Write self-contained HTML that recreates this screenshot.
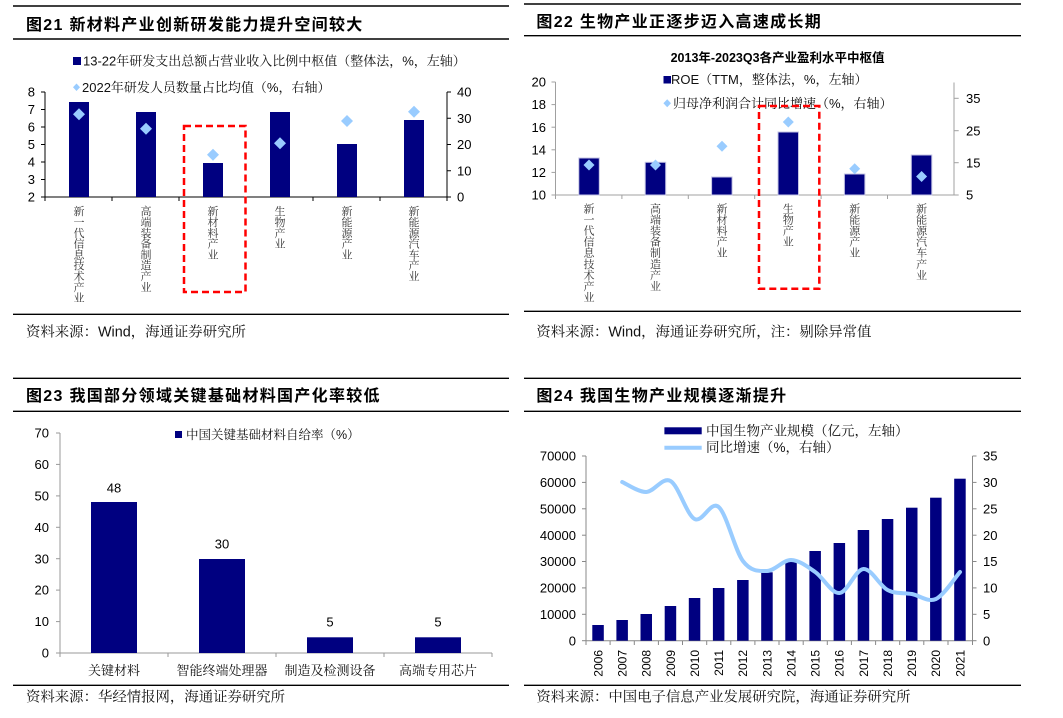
<!DOCTYPE html>
<html><head><meta charset="utf-8"><style>
html,body{margin:0;padding:0;background:#fff;}
svg{display:block;}
.t{font-family:"Liberation Sans","Noto Sans CJK SC",sans-serif;font-weight:700;font-size:16px;letter-spacing:1.3px;fill:#000;}
.s{font-family:"Liberation Sans","Noto Serif CJK SC",serif;font-size:14.4px;fill:#111;}
.lg{font-family:"Liberation Sans","Noto Serif CJK SC",serif;fill:#111;}
.ax{font-family:"Liberation Sans",sans-serif;font-size:13px;fill:#000;}
.vl{font-family:"Liberation Sans","Noto Serif CJK SC",serif;font-size:11px;fill:#333;}
</style></head><body>
<svg width="1063" height="718" viewBox="0 0 1063 718" xmlns="http://www.w3.org/2000/svg">
<rect width="1063" height="718" fill="#fff"/>

<!-- ============ Panel 1 ============ -->
<line x1="13" y1="6" x2="509" y2="6" stroke="#000" stroke-width="1.4"/>
<text class="t" x="26" y="30">图21 新材料产业创新研发能力提升空间较大</text>
<line x1="13" y1="39" x2="509" y2="39" stroke="#000" stroke-width="1.4"/>
<rect x="73" y="57" width="8" height="8" fill="#000080"/>
<text class="lg" x="83" y="65.5" font-size="13">13-22年研发支出总额占营业收入比例中枢值（整体法，%，左轴）</text>
<polygon points="76.5,83.5 80,87.3 76.5,91 73,87.3" fill="#99CCFF"/>
<text class="lg" x="82" y="92" font-size="13">2022年研发人员数量占比均值（%，右轴）</text>
<g stroke="#000" stroke-width="1">
<line x1="45" y1="92" x2="45" y2="197"/>
<line x1="447" y1="92" x2="447" y2="197"/>
<line x1="45" y1="197" x2="447" y2="197"/>
<line x1="41" y1="92" x2="45" y2="92"/><line x1="41" y1="109.5" x2="45" y2="109.5"/><line x1="41" y1="127" x2="45" y2="127"/><line x1="41" y1="144.5" x2="45" y2="144.5"/><line x1="41" y1="162" x2="45" y2="162"/><line x1="41" y1="179.5" x2="45" y2="179.5"/><line x1="41" y1="197" x2="45" y2="197"/>
<line x1="447" y1="92" x2="451" y2="92"/><line x1="447" y1="118.25" x2="451" y2="118.25"/><line x1="447" y1="144.5" x2="451" y2="144.5"/><line x1="447" y1="170.75" x2="451" y2="170.75"/><line x1="447" y1="197" x2="451" y2="197"/>
<line x1="45" y1="197" x2="45" y2="201"/><line x1="112" y1="197" x2="112" y2="201"/><line x1="179" y1="197" x2="179" y2="201"/><line x1="246" y1="197" x2="246" y2="201"/><line x1="313" y1="197" x2="313" y2="201"/><line x1="380" y1="197" x2="380" y2="201"/><line x1="447" y1="197" x2="447" y2="201"/>
</g>
<g class="ax" text-anchor="end">
<text x="35" y="96.6">8</text><text x="35" y="114.1">7</text><text x="35" y="131.6">6</text><text x="35" y="149.1">5</text><text x="35" y="166.6">4</text><text x="35" y="184.1">3</text><text x="35" y="201.6">2</text>
</g>
<g class="ax">
<text x="457" y="96.6">40</text><text x="457" y="122.9">30</text><text x="457" y="149.1">20</text><text x="457" y="175.4">10</text><text x="457" y="201.6">0</text>
</g>
<g fill="#000080">
<rect x="69" y="102" width="20" height="95"/>
<rect x="136" y="112" width="20" height="85"/>
<rect x="203" y="163" width="20" height="34"/>
<rect x="270" y="112" width="20" height="85"/>
<rect x="337" y="144" width="20" height="53"/>
<rect x="404" y="120" width="20" height="77"/>
</g>
<g fill="#99CCFF">
<polygon points="79,108.3 85,114.3 79,120.3 73,114.3"/>
<polygon points="146,122.7 152,128.7 146,134.7 140,128.7"/>
<polygon points="213,148.7 219,154.7 213,160.7 207,154.7"/>
<polygon points="280,137.3 286,143.3 280,149.3 274,143.3"/>
<polygon points="347,115 353,121 347,127 341,121"/>
<polygon points="414,105.7 420,111.7 414,117.7 408,111.7"/>
</g>
<g class="vl" text-anchor="middle">
<text x="79" y="215.2"><tspan x="79">新</tspan><tspan x="79" dy="10.8">一</tspan><tspan x="79" dy="10.8">代</tspan><tspan x="79" dy="10.8">信</tspan><tspan x="79" dy="10.8">息</tspan><tspan x="79" dy="10.8">技</tspan><tspan x="79" dy="10.8">术</tspan><tspan x="79" dy="10.8">产</tspan><tspan x="79" dy="10.8">业</tspan></text>
<text x="146" y="215.2"><tspan x="146">高</tspan><tspan x="146" dy="10.8">端</tspan><tspan x="146" dy="10.8">装</tspan><tspan x="146" dy="10.8">备</tspan><tspan x="146" dy="10.8">制</tspan><tspan x="146" dy="10.8">造</tspan><tspan x="146" dy="10.8">产</tspan><tspan x="146" dy="10.8">业</tspan></text>
<text x="213" y="215.2"><tspan x="213">新</tspan><tspan x="213" dy="10.8">材</tspan><tspan x="213" dy="10.8">料</tspan><tspan x="213" dy="10.8">产</tspan><tspan x="213" dy="10.8">业</tspan></text>
<text x="280" y="215.2"><tspan x="280">生</tspan><tspan x="280" dy="10.8">物</tspan><tspan x="280" dy="10.8">产</tspan><tspan x="280" dy="10.8">业</tspan></text>
<text x="347" y="215.2"><tspan x="347">新</tspan><tspan x="347" dy="10.8">能</tspan><tspan x="347" dy="10.8">源</tspan><tspan x="347" dy="10.8">产</tspan><tspan x="347" dy="10.8">业</tspan></text>
<text x="414" y="215.2"><tspan x="414">新</tspan><tspan x="414" dy="10.8">能</tspan><tspan x="414" dy="10.8">源</tspan><tspan x="414" dy="10.8">汽</tspan><tspan x="414" dy="10.8">车</tspan><tspan x="414" dy="10.8">产</tspan><tspan x="414" dy="10.8">业</tspan></text>
</g>
<rect x="184" y="126" width="61.5" height="166" fill="none" stroke="#FF0000" stroke-width="2.5" stroke-dasharray="7 4"/>
<line x1="13" y1="314.3" x2="509" y2="314.3" stroke="#000" stroke-width="1.4"/>
<text class="s" x="26" y="336.5">资料来源：Wind，海通证券研究所</text>

<!-- ============ Panel 2 ============ -->
<line x1="524" y1="4" x2="1021" y2="4" stroke="#000" stroke-width="1.4"/>
<text class="t" x="536.4" y="27">图22 生物产业正逐步迈入高速成长期</text>
<line x1="524" y1="35.7" x2="1021" y2="35.7" stroke="#000" stroke-width="1.4"/>
<text x="777.6" y="61.8" text-anchor="middle" font-family="'Liberation Sans','Noto Sans CJK SC',sans-serif" font-weight="700" font-size="12.5" fill="#000">2013年-2023Q3各产业盈利水平中枢值</text>
<rect x="663.5" y="76" width="7.5" height="7.5" fill="#000080"/>
<text class="lg" x="671" y="83.8" font-size="13">ROE（TTM，整体法，%，左轴）</text>
<polygon points="667.2,99.3 671,103.3 667.2,107.3 663.4,103.3" fill="#99CCFF"/>
<text class="lg" x="673" y="108" font-size="13">归母净利润合计同比增速（%，右轴）</text>
<g stroke="#A0A0A0" stroke-width="1">
<line x1="555.5" y1="82" x2="555.5" y2="195"/>
<line x1="954" y1="82.5" x2="954" y2="195"/>
<line x1="555.5" y1="195" x2="954" y2="195"/>
<line x1="551.5" y1="82" x2="555.5" y2="82"/><line x1="551.5" y1="104.6" x2="555.5" y2="104.6"/><line x1="551.5" y1="127.2" x2="555.5" y2="127.2"/><line x1="551.5" y1="149.8" x2="555.5" y2="149.8"/><line x1="551.5" y1="172.4" x2="555.5" y2="172.4"/><line x1="551.5" y1="195" x2="555.5" y2="195"/>
<line x1="954" y1="98.3" x2="958.7" y2="98.3"/><line x1="954" y1="130.7" x2="958.7" y2="130.7"/><line x1="954" y1="162.7" x2="958.7" y2="162.7"/><line x1="954" y1="195" x2="958.7" y2="195"/>
<line x1="555.5" y1="195" x2="555.5" y2="199"/><line x1="621.9" y1="195" x2="621.9" y2="199"/><line x1="688.3" y1="195" x2="688.3" y2="199"/><line x1="754.7" y1="195" x2="754.7" y2="199"/><line x1="821.1" y1="195" x2="821.1" y2="199"/><line x1="887.5" y1="195" x2="887.5" y2="199"/>
</g>
<g class="ax" text-anchor="end">
<text x="546" y="86.6">20</text><text x="546" y="109.2">18</text><text x="546" y="131.8">16</text><text x="546" y="154.4">14</text><text x="546" y="177">12</text><text x="546" y="199.6">10</text>
</g>
<g class="ax">
<text x="966" y="102.9">35</text><text x="966" y="135.3">25</text><text x="966" y="167.3">15</text><text x="966" y="199.6">5</text>
</g>
<g fill="#000080" stroke="#C4C4E4" stroke-width="1">
<rect x="578.8" y="158" width="20.5" height="37"/>
<rect x="645.2" y="162.3" width="20.5" height="32.7"/>
<rect x="711.6" y="177" width="20.5" height="18"/>
<rect x="778" y="132" width="20.5" height="63"/>
<rect x="844.4" y="174" width="20.5" height="21"/>
<rect x="911.3" y="155" width="20.5" height="40"/>
</g>
<g fill="#99CCFF">
<polygon points="589,159.5 594.5,165 589,170.5 583.5,165"/>
<polygon points="655.5,159.5 661,165 655.5,170.5 650,165"/>
<polygon points="722,140.8 727.5,146.3 722,151.8 716.5,146.3"/>
<polygon points="788.3,116.5 793.8,122 788.3,127.5 782.8,122"/>
<polygon points="854.7,163.2 860.2,168.7 854.7,174.2 849.2,168.7"/>
<polygon points="921.6,171 927.1,176.5 921.6,182 916.1,176.5"/>
</g>
<g class="vl" text-anchor="middle">
<text x="589" y="212.5"><tspan x="589">新</tspan><tspan x="589" dy="11.05">一</tspan><tspan x="589" dy="11.05">代</tspan><tspan x="589" dy="11.05">信</tspan><tspan x="589" dy="11.05">息</tspan><tspan x="589" dy="11.05">技</tspan><tspan x="589" dy="11.05">术</tspan><tspan x="589" dy="11.05">产</tspan><tspan x="589" dy="11.05">业</tspan></text>
<text x="655.5" y="212.5"><tspan x="655.5">高</tspan><tspan x="655.5" dy="11.05">端</tspan><tspan x="655.5" dy="11.05">装</tspan><tspan x="655.5" dy="11.05">备</tspan><tspan x="655.5" dy="11.05">制</tspan><tspan x="655.5" dy="11.05">造</tspan><tspan x="655.5" dy="11.05">产</tspan><tspan x="655.5" dy="11.05">业</tspan></text>
<text x="722" y="212.5"><tspan x="722">新</tspan><tspan x="722" dy="11.05">材</tspan><tspan x="722" dy="11.05">料</tspan><tspan x="722" dy="11.05">产</tspan><tspan x="722" dy="11.05">业</tspan></text>
<text x="788.3" y="212.5"><tspan x="788.3">生</tspan><tspan x="788.3" dy="11.05">物</tspan><tspan x="788.3" dy="11.05">产</tspan><tspan x="788.3" dy="11.05">业</tspan></text>
<text x="854.7" y="212.5"><tspan x="854.7">新</tspan><tspan x="854.7" dy="11.05">能</tspan><tspan x="854.7" dy="11.05">源</tspan><tspan x="854.7" dy="11.05">产</tspan><tspan x="854.7" dy="11.05">业</tspan></text>
<text x="921.6" y="212.5"><tspan x="921.6">新</tspan><tspan x="921.6" dy="11.05">能</tspan><tspan x="921.6" dy="11.05">源</tspan><tspan x="921.6" dy="11.05">汽</tspan><tspan x="921.6" dy="11.05">车</tspan><tspan x="921.6" dy="11.05">产</tspan><tspan x="921.6" dy="11.05">业</tspan></text>
</g>
<rect x="759" y="106" width="60.3" height="182.7" fill="none" stroke="#FF0000" stroke-width="2.5" stroke-dasharray="7 4"/>
<line x1="524" y1="311.3" x2="1021" y2="311.3" stroke="#000" stroke-width="1.4"/>
<text class="s" x="536.4" y="336.5">资料来源：Wind，海通证券研究所，注：剔除异常值</text>

<!-- ============ Panel 3 ============ -->
<line x1="13" y1="378.3" x2="509" y2="378.3" stroke="#000" stroke-width="1.4"/>
<text class="t" x="26" y="401">图23 我国部分领域关键基础材料国产化率较低</text>
<line x1="13" y1="411.3" x2="509" y2="411.3" stroke="#000" stroke-width="1.4"/>
<rect x="175" y="431" width="7" height="7" fill="#000080"/>
<text class="lg" x="186" y="439" font-size="12.5">中国关键基础材料自给率（%）</text>
<g stroke="#999" stroke-width="1">
<line x1="60" y1="433" x2="60" y2="653"/>
<line x1="60" y1="653" x2="492" y2="653"/>
<line x1="56" y1="433" x2="60" y2="433"/><line x1="56" y1="464.4" x2="60" y2="464.4"/><line x1="56" y1="495.9" x2="60" y2="495.9"/><line x1="56" y1="527.3" x2="60" y2="527.3"/><line x1="56" y1="558.7" x2="60" y2="558.7"/><line x1="56" y1="590.1" x2="60" y2="590.1"/><line x1="56" y1="621.6" x2="60" y2="621.6"/><line x1="56" y1="653" x2="60" y2="653"/>
<line x1="60" y1="653" x2="60" y2="657"/><line x1="168" y1="653" x2="168" y2="657"/><line x1="276" y1="653" x2="276" y2="657"/><line x1="384" y1="653" x2="384" y2="657"/><line x1="492" y1="653" x2="492" y2="657"/>
</g>
<g class="ax" text-anchor="end">
<text x="49" y="437.6">70</text><text x="49" y="469">60</text><text x="49" y="500.5">50</text><text x="49" y="531.9">40</text><text x="49" y="563.3">30</text><text x="49" y="594.7">20</text><text x="49" y="626.2">10</text><text x="49" y="657.6">0</text>
</g>
<g fill="#000080">
<rect x="91" y="502" width="46" height="151"/>
<rect x="199" y="559" width="46" height="94"/>
<rect x="307" y="637.3" width="46" height="15.7"/>
<rect x="415" y="637.3" width="46" height="15.7"/>
</g>
<g class="ax" text-anchor="middle">
<text x="114" y="492.4">48</text><text x="222" y="548.4">30</text><text x="330" y="626.7">5</text><text x="438" y="626.7">5</text>
</g>
<g class="lg" font-size="13" text-anchor="middle">
<text x="114" y="675">关键材料</text><text x="222" y="675">智能终端处理器</text><text x="330" y="675">制造及检测设备</text><text x="438" y="675">高端专用芯片</text>
</g>
<line x1="13" y1="685.3" x2="509" y2="685.3" stroke="#000" stroke-width="1.4"/>
<text class="s" x="26" y="701.5">资料来源：华经情报网，海通证券研究所</text>

<!-- ============ Panel 4 ============ -->
<line x1="524" y1="378.3" x2="1021" y2="378.3" stroke="#000" stroke-width="1.4"/>
<text class="t" x="536.4" y="401">图24 我国生物产业规模逐渐提升</text>
<line x1="524" y1="411.3" x2="1021" y2="411.3" stroke="#000" stroke-width="1.4"/>
<rect x="664.4" y="427.3" width="37.3" height="7" fill="#000080"/>
<text class="lg" x="706" y="435.5" font-size="13.5">中国生物产业规模（亿元，左轴）</text>
<line x1="664.4" y1="447.7" x2="701.7" y2="447.7" stroke="#99CCFF" stroke-width="4"/>
<text class="lg" x="706" y="452" font-size="13.5">同比增速（%，右轴）</text>
<g stroke="#888" stroke-width="1">
<line x1="586" y1="456" x2="586" y2="640.7"/>
<line x1="972.5" y1="456" x2="972.5" y2="640.7"/>
<line x1="586" y1="640.7" x2="972.5" y2="640.7"/>
<line x1="582" y1="456" x2="586" y2="456"/><line x1="582" y1="482.4" x2="586" y2="482.4"/><line x1="582" y1="508.8" x2="586" y2="508.8"/><line x1="582" y1="535.2" x2="586" y2="535.2"/><line x1="582" y1="561.5" x2="586" y2="561.5"/><line x1="582" y1="587.9" x2="586" y2="587.9"/><line x1="582" y1="614.3" x2="586" y2="614.3"/><line x1="582" y1="640.7" x2="586" y2="640.7"/>
<line x1="972.5" y1="456" x2="976.5" y2="456"/><line x1="972.5" y1="482.4" x2="976.5" y2="482.4"/><line x1="972.5" y1="508.8" x2="976.5" y2="508.8"/><line x1="972.5" y1="535.2" x2="976.5" y2="535.2"/><line x1="972.5" y1="561.5" x2="976.5" y2="561.5"/><line x1="972.5" y1="587.9" x2="976.5" y2="587.9"/><line x1="972.5" y1="614.3" x2="976.5" y2="614.3"/><line x1="972.5" y1="640.7" x2="976.5" y2="640.7"/>
<line x1="586" y1="640.7" x2="586" y2="645"/><line x1="610.1" y1="640.7" x2="610.1" y2="645"/><line x1="634.3" y1="640.7" x2="634.3" y2="645"/><line x1="658.4" y1="640.7" x2="658.4" y2="645"/><line x1="682.5" y1="640.7" x2="682.5" y2="645"/><line x1="706.7" y1="640.7" x2="706.7" y2="645"/><line x1="730.8" y1="640.7" x2="730.8" y2="645"/><line x1="754.9" y1="640.7" x2="754.9" y2="645"/><line x1="779" y1="640.7" x2="779" y2="645"/><line x1="803.2" y1="640.7" x2="803.2" y2="645"/><line x1="827.3" y1="640.7" x2="827.3" y2="645"/><line x1="851.4" y1="640.7" x2="851.4" y2="645"/><line x1="875.6" y1="640.7" x2="875.6" y2="645"/><line x1="899.7" y1="640.7" x2="899.7" y2="645"/><line x1="923.8" y1="640.7" x2="923.8" y2="645"/><line x1="948" y1="640.7" x2="948" y2="645"/><line x1="972.5" y1="640.7" x2="972.5" y2="645"/>
</g>
<g class="ax" text-anchor="end">
<text x="576" y="460.6">70000</text><text x="576" y="487">60000</text><text x="576" y="513.4">50000</text><text x="576" y="539.8">40000</text><text x="576" y="566.1">30000</text><text x="576" y="592.5">20000</text><text x="576" y="618.9">10000</text><text x="576" y="645.3">0</text>
</g>
<g class="ax">
<text x="983" y="460.6">35</text><text x="983" y="487">30</text><text x="983" y="513.4">25</text><text x="983" y="539.8">20</text><text x="983" y="566.1">15</text><text x="983" y="592.5">10</text><text x="983" y="618.9">5</text><text x="983" y="645.3">0</text>
</g>
<g fill="#000080">
<rect x="592.3" y="625" width="11.5" height="15.7"/>
<rect x="616.4" y="620" width="11.5" height="20.7"/>
<rect x="640.5" y="614" width="11.5" height="26.7"/>
<rect x="664.7" y="606" width="11.5" height="34.7"/>
<rect x="688.8" y="598" width="11.5" height="42.7"/>
<rect x="712.9" y="588" width="11.5" height="52.7"/>
<rect x="737.1" y="580" width="11.5" height="60.7"/>
<rect x="761.2" y="572.3" width="11.5" height="68.4"/>
<rect x="785.3" y="561.7" width="11.5" height="79"/>
<rect x="809.4" y="551" width="11.5" height="89.7"/>
<rect x="833.6" y="543" width="11.5" height="97.7"/>
<rect x="857.7" y="530" width="11.5" height="110.7"/>
<rect x="881.8" y="519" width="11.5" height="121.7"/>
<rect x="906" y="507.7" width="11.5" height="133"/>
<rect x="930.1" y="497.7" width="11.5" height="143"/>
<rect x="954.2" y="478.7" width="11.5" height="162"/>
</g>
<path d="M622.2,482 C626.2,483.7 638.3,492.2 646.3,492 C654.3,491.8 662.5,476.5 670.5,481 C678.5,485.5 686.6,514.7 694.6,519 C702.6,523.3 710.7,500 718.7,507 C726.7,514 734.9,550.3 742.9,561 C750.9,571.7 759,571.2 767,571 C775,570.8 783.1,559.8 791.1,560 C799.1,560.2 807.2,566.5 815.2,572 C823.2,577.5 831.4,593.5 839.4,593 C847.4,592.5 855.5,569.5 863.5,569 C871.5,568.5 879.6,585.8 887.6,590 C895.6,594.2 903.8,592.5 911.8,594 C919.8,595.5 927.9,602.7 935.9,599 C943.9,595.3 956,576.5 960,572" fill="none" stroke="#99CCFF" stroke-width="4" stroke-linecap="round" stroke-linejoin="round"/>
<g font-family="'Liberation Sans',sans-serif" font-size="12" fill="#000" text-anchor="end">
<text transform="translate(602.4,650) rotate(-90)">2006</text>
<text transform="translate(626.5,650) rotate(-90)">2007</text>
<text transform="translate(650.6,650) rotate(-90)">2008</text>
<text transform="translate(674.8,650) rotate(-90)">2009</text>
<text transform="translate(698.9,650) rotate(-90)">2010</text>
<text transform="translate(723,650) rotate(-90)">2011</text>
<text transform="translate(747.2,650) rotate(-90)">2012</text>
<text transform="translate(771.3,650) rotate(-90)">2013</text>
<text transform="translate(795.4,650) rotate(-90)">2014</text>
<text transform="translate(819.5,650) rotate(-90)">2015</text>
<text transform="translate(843.7,650) rotate(-90)">2016</text>
<text transform="translate(867.8,650) rotate(-90)">2017</text>
<text transform="translate(891.9,650) rotate(-90)">2018</text>
<text transform="translate(916.1,650) rotate(-90)">2019</text>
<text transform="translate(940.2,650) rotate(-90)">2020</text>
<text transform="translate(964.3,650) rotate(-90)">2021</text>
</g>
<line x1="524" y1="685.3" x2="1021" y2="685.3" stroke="#000" stroke-width="1.4"/>
<text class="s" x="536.4" y="701.5">资料来源：中国电子信息产业发展研究院，海通证券研究所</text>
</svg>
</body></html>
